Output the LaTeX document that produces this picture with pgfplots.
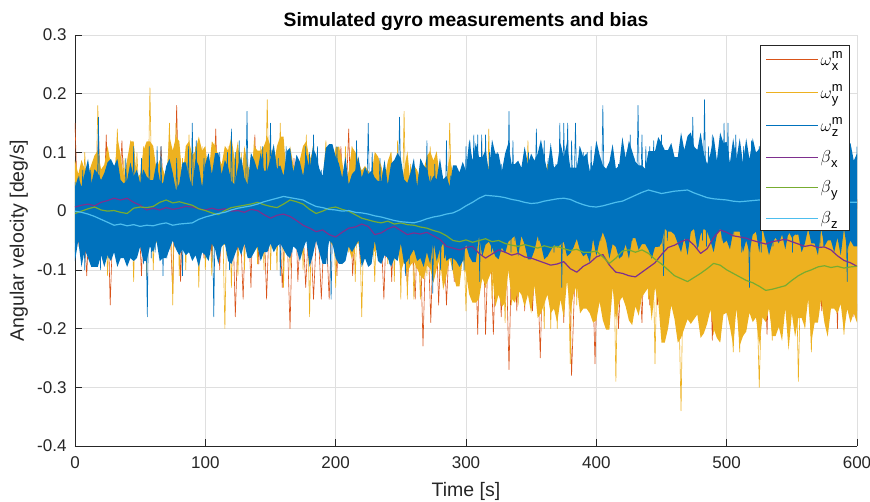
\documentclass[border=0pt]{standalone}
\usepackage{fontspec}
\setmainfont{Liberation Sans}
\usepackage{amsmath}
\usepackage{pgfplots}
\usepackage{pgfplotstable}
\pgfplotsset{compat=1.18}
\definecolor{mOrange}{rgb}{0.850,0.325,0.098}
\definecolor{mYellow}{rgb}{0.929,0.694,0.125}
\definecolor{mBlue}{rgb}{0,0.447,0.741}
\definecolor{mPurple}{rgb}{0.494,0.184,0.556}
\definecolor{mGreen}{rgb}{0.466,0.674,0.188}
\definecolor{mCyan}{rgb}{0.301,0.745,0.933}
\definecolor{axgray}{rgb}{0.15,0.15,0.15}
\definecolor{gridgray}{rgb}{0.875,0.875,0.875}

% omega_x measured, sampled every 3 s
\pgfplotstableread[row sep=\\]{y\\
0.15\\ -0.06\\ 0.02\\ -0.11\\ 0.04\\ -0.03\\ 0.13\\ -0.06\\ 0.13\\ -0.16\\ 0.04\\ -0.02\\ 0.12\\ -0.06\\ 0.09\\ 0\\ 0.05\\ -0.11\\ 0.08\\ -0.02\\
0.01\\ -0.04\\ 0.11\\ -0.01\\ 0.03\\ -0.14\\ 0.18\\ -0.12\\ 0.08\\ -0.04\\ 0.03\\ -0.03\\ 0.01\\ -0.08\\ 0.08\\ -0.08\\ 0.14\\ -0.10\\ 0.07\\ -0.07\\
0.09\\ -0.18\\ 0.03\\ -0.15\\ 0.06\\ -0.13\\ 0.13\\ -0.09\\ 0.06\\ -0.15\\ 0.05\\ -0.02\\ 0.05\\ -0.13\\ 0.02\\ -0.20\\ 0.09\\ -0.12\\ 0.02\\ -0.13\\
0.01\\ -0.15\\ 0\\ -0.15\\ 0.01\\ -0.15\\ 0.04\\ -0.11\\ 0.11\\ -0.04\\ 0.14\\ -0.11\\ 0.01\\ -0.09\\ 0.05\\ -0.09\\ 0.07\\ -0.04\\ 0.01\\ -0.15\\
0.06\\ -0.12\\ 0.06\\ -0.08\\ 0.01\\ -0.13\\ -0.01\\ -0.15\\ 0.05\\ -0.23\\ 0.02\\ -0.19\\ 0.06\\ -0.16\\ 0.03\\ -0.16\\ -0.01\\ -0.12\\ 0.06\\ -0.06\\
0.07\\ -0.13\\ 0.03\\ -0.21\\ 0.12\\ -0.21\\ 0.01\\ -0.21\\ 0.01\\ -0.18\\ 0\\ -0.27\\ 0.03\\ -0.17\\ 0.07\\ -0.17\\ 0.04\\ -0.17\\ -0.03\\ -0.25\\
0.02\\ -0.13\\ -0.02\\ -0.10\\ 0.02\\ -0.19\\ 0.01\\ -0.28\\ -0.08\\ -0.15\\ -0.01\\ -0.15\\ -0.01\\ -0.26\\ 0.02\\ -0.17\\ 0.05\\ -0.16\\ -0.01\\ -0.20\\
-0.05\\ -0.14\\ 0.04\\ -0.12\\ -0.05\\ -0.19\\ 0.04\\ -0.16\\ -0.04\\ -0.16\\ 0.10\\ -0.18\\ 0.02\\ -0.15\\ -0.04\\ -0.19\\ -0.01\\ -0.15\\ -0.05\\ -0.15\\
-0.01\\ -0.08\\ 0.01\\ -0.22\\ 0.05\\ -0.09\\ 0.01\\ -0.16\\ 0.01\\ -0.06\\ 0.09\\ -0.13\\ -0.04\\ -0.12\\ 0.07\\ -0.17\\ -0.04\\ -0.21\\ 0.05\\ -0.17\\
0.06\\ -0.17\\ -0.02\\ -0.13\\ -0.02\\ -0.07\\ 0.08\\ -0.16\\ 0.08\\ -0.18\\ -0.05\\ -0.17\\ 0.12\\ -0.14\\ 0.04\\ -0.20\\ 0.04\\ -0.17\\ -0.03\\ -0.18\\
0.02\\
}\wx

% omega_y measured, sampled every 2.5 s
\pgfplotstableread[row sep=\\]{y\\
-0.07\\ 0.03\\ -0.07\\ 0.10\\ -0.03\\ 0.06\\ -0.08\\ 0.18\\ -0.04\\ 0.06\\ -0.11\\ 0.06\\ -0.01\\ 0.14\\ -0.08\\ 0.09\\ -0.07\\ 0.12\\ -0.12\\ 0.10\\
-0.02\\ 0.11\\ -0.11\\ 0.21\\ -0.10\\ 0.05\\ -0.06\\ 0.05\\ 0\\ 0.15\\ -0.16\\ 0.15\\ -0.11\\ 0.09\\ -0.10\\ 0.13\\ -0.07\\ 0.11\\ -0.13\\ 0.11\\
-0.10\\ 0.04\\ -0.11\\ 0.12\\ -0.07\\ 0.07\\ -0.20\\ 0.11\\ -0.13\\ 0.08\\ -0.11\\ 0.10\\ -0.10\\ 0.07\\ -0.02\\ 0.12\\ -0.09\\ 0.11\\ -0.10\\ 0.19\\
-0.10\\ 0.07\\ -0.10\\ 0.15\\ -0.13\\ 0.09\\ -0.10\\ 0.07\\ -0.03\\ 0.08\\ -0.10\\ 0.13\\ -0.18\\ 0.11\\ -0.03\\ 0.04\\ 0\\ 0.12\\ 0\\ 0.07\\
-0.13\\ 0.11\\ -0.09\\ 0.11\\ -0.07\\ 0.11\\ -0.12\\ 0.07\\ -0.18\\ 0.06\\ -0.07\\ 0.03\\ -0.12\\ 0.09\\ -0.08\\ 0.02\\ -0.09\\ 0.10\\ -0.12\\ 0.12\\
-0.15\\ 0.17\\ -0.15\\ 0.08\\ -0.15\\ 0.01\\ -0.15\\ 0.04\\ -0.11\\ 0.11\\ -0.04\\ 0.04\\ -0.11\\ 0.01\\ -0.09\\ 0.15\\ -0.09\\ 0.07\\ -0.04\\ 0.01\\
-0.17\\ 0.06\\ -0.12\\ 0.06\\ -0.08\\ 0.01\\ -0.13\\ 0.14\\ -0.15\\ 0.05\\ -0.09\\ 0.02\\ -0.19\\ 0.06\\ -0.16\\ 0.03\\ -0.16\\ -0.01\\ -0.12\\ 0.12\\
-0.07\\ 0.08\\ -0.12\\ 0.04\\ -0.20\\ 0.08\\ -0.20\\ 0.02\\ -0.20\\ 0.02\\ -0.17\\ 0.01\\ -0.26\\ 0.04\\ -0.16\\ 0.08\\ -0.16\\ 0.05\\ -0.16\\ -0.02\\
-0.18\\ 0.04\\ -0.11\\ 0\\ -0.08\\ 0.04\\ -0.29\\ 0.03\\ -0.13\\ -0.06\\ -0.13\\ 0.01\\ -0.13\\ 0.01\\ -0.14\\ 0.04\\ -0.15\\ 0.07\\ -0.26\\ 0.01\\
-0.21\\ -0.07\\ -0.16\\ 0.02\\ -0.14\\ -0.07\\ -0.34\\ 0.02\\ -0.18\\ -0.06\\ -0.18\\ -0.07\\ -0.20\\ 0\\ -0.17\\ -0.06\\ -0.21\\ -0.03\\ -0.22\\ 0.10\\
-0.15\\ -0.05\\ -0.24\\ -0.11\\ -0.24\\ -0.02\\ -0.20\\ -0.09\\ -0.18\\ -0.08\\ -0.30\\ -0.08\\ -0.18\\ -0.11\\ -0.22\\ -0.02\\ -0.19\\ -0.01\\ -0.13\\ 0.02\\
-0.16\\ 0.02\\ -0.29\\ -0.03\\ -0.20\\ -0.09\\ -0.24\\ -0.02\\ -0.18\\ -0.09\\ -0.18\\ 0.02\\ -0.14\\ 0.10\\ -0.16\\ -0.07\\ -0.21\\ -0.06\\ -0.18\\ -0.04\\
-0.17\\
}\wy

% omega_y dense extent per 2.5 s bin: maxima forward (241), then minima backward (241)
\pgfplotstableread[row sep=\\]{y\\
0.087\\ 0.063\\ 0.087\\ 0.071\\ 0.063\\ 0.079\\ 0.095\\ 0.103\\ 0.071\\ 0.079\\ 0.111\\ 0.079\\ 0.055\\ 0.127\\ 0.095\\ 0.055\\ 0.087\\ 0.119\\ 0.119\\ 0.055\\
0.063\\ 0.103\\ 0.119\\ 0.119\\ 0.111\\ 0.071\\ 0.087\\ 0.071\\ 0.055\\ 0.127\\ 0.103\\ 0.127\\ 0.119\\ 0.055\\ 0.111\\ 0.119\\ 0.095\\ 0.103\\ 0.127\\ 0.103\\
0.111\\ 0.063\\ 0.119\\ 0.111\\ 0.095\\ 0.079\\ 0.111\\ 0.103\\ 0.127\\ 0.087\\ 0.119\\ 0.055\\ 0.111\\ 0.079\\ 0.063\\ 0.111\\ 0.103\\ 0.103\\ 0.111\\ 0.127\\
0.111\\ 0.079\\ 0.111\\ 0.127\\ 0.127\\ 0.055\\ 0.111\\ 0.079\\ 0.071\\ 0.087\\ 0.111\\ 0.119\\ 0.087\\ 0.103\\ 0.071\\ 0.063\\ 0.055\\ 0.111\\ 0.055\\ 0.079\\
0.109\\ 0.109\\ 0.085\\ 0.045\\ 0.069\\ 0.109\\ 0.101\\ 0.085\\ 0.069\\ 0.077\\ 0.069\\ 0.061\\ 0.101\\ 0.093\\ 0.077\\ 0.053\\ 0.085\\ 0.101\\ 0.053\\ 0.077\\
0.038\\ 0.070\\ 0.102\\ 0.046\\ 0.078\\ 0.070\\ 0.054\\ 0.070\\ 0.094\\ 0.102\\ 0.086\\ 0.102\\ 0.054\\ 0.046\\ 0.054\\ 0.094\\ 0.062\\ 0.078\\ 0.046\\ 0.078\\
0.037\\ 0.029\\ 0.029\\ 0.069\\ 0.029\\ 0.021\\ 0.061\\ 0.077\\ 0.045\\ 0.005\\ 0.021\\ 0.069\\ 0.069\\ 0.037\\ 0.013\\ 0.077\\ 0.061\\ 0.013\\ 0.053\\ 0.077\\
0.024\\ 0.072\\ 0.072\\ 0.024\\ 0.056\\ 0.040\\ 0.008\\ 0\\ 0.040\\ 0.064\\ 0.016\\ 0\\ 0.072\\ 0.056\\ 0.032\\ 0.072\\ 0.032\\ 0.032\\ 0.040\\ 0.072\\
0.011\\ 0.019\\ -0.005\\ 0.051\\ 0.059\\ 0.003\\ 0.043\\ 0.027\\ -0.005\\ 0.043\\ 0.011\\ 0.059\\ 0.043\\ 0.011\\ -0.005\\ 0.059\\ 0.067\\ 0.067\\ 0.059\\ 0.043\\
-0.004\\ 0.044\\ -0.020\\ 0.004\\ 0.012\\ 0.044\\ -0.004\\ 0.020\\ 0.004\\ 0.012\\ -0.004\\ -0.012\\ -0.012\\ 0.036\\ -0.020\\ 0.028\\ 0.036\\ 0.052\\ 0.044\\ -0.004\\
-0.017\\ 0.007\\ 0.039\\ -0.025\\ 0.039\\ 0.023\\ 0.015\\ -0.017\\ -0.001\\ -0.009\\ 0.039\\ -0.009\\ -0.001\\ -0.025\\ 0.023\\ 0.023\\ 0.007\\ 0.031\\ -0.025\\ 0.047\\
0.004\\ 0.044\\ 0.012\\ 0.012\\ 0.028\\ -0.020\\ 0.052\\ 0.020\\ 0.020\\ -0.020\\ 0.020\\ 0.044\\ -0.004\\ -0.004\\ 0.004\\ -0.012\\ 0.036\\ -0.004\\ 0.020\\ 0.004\\
0.020\\
-0.190\\
-0.174\\ -0.190\\ -0.166\\ -0.206\\ -0.158\\ -0.174\\ -0.166\\ -0.166\\ -0.214\\ -0.190\\ -0.150\\ -0.190\\ -0.190\\ -0.222\\ -0.150\\ -0.198\\ -0.182\\ -0.182\\ -0.214\\ -0.174\\
-0.237\\ -0.165\\ -0.221\\ -0.197\\ -0.213\\ -0.213\\ -0.165\\ -0.189\\ -0.181\\ -0.229\\ -0.181\\ -0.189\\ -0.173\\ -0.205\\ -0.213\\ -0.229\\ -0.165\\ -0.229\\ -0.197\\ -0.173\\
-0.176\\ -0.224\\ -0.216\\ -0.200\\ -0.168\\ -0.192\\ -0.208\\ -0.216\\ -0.176\\ -0.184\\ -0.192\\ -0.184\\ -0.200\\ -0.216\\ -0.224\\ -0.184\\ -0.160\\ -0.200\\ -0.224\\ -0.224\\
-0.154\\ -0.130\\ -0.186\\ -0.130\\ -0.138\\ -0.146\\ -0.178\\ -0.162\\ -0.194\\ -0.186\\ -0.162\\ -0.146\\ -0.154\\ -0.186\\ -0.130\\ -0.202\\ -0.202\\ -0.186\\ -0.154\\ -0.186\\
-0.190\\ -0.174\\ -0.166\\ -0.166\\ -0.174\\ -0.126\\ -0.142\\ -0.174\\ -0.118\\ -0.182\\ -0.150\\ -0.190\\ -0.166\\ -0.174\\ -0.142\\ -0.158\\ -0.174\\ -0.182\\ -0.126\\ -0.174\\
-0.142\\ -0.163\\ -0.142\\ -0.135\\ -0.156\\ -0.149\\ -0.100\\ -0.156\\ -0.163\\ -0.142\\ -0.163\\ -0.100\\ -0.114\\ -0.128\\ -0.114\\ -0.149\\ -0.156\\ -0.156\\ -0.142\\ -0.107\\
-0.080\\ -0.128\\ -0.128\\ -0.104\\ -0.080\\ -0.110\\ -0.134\\ -0.080\\ -0.098\\ -0.122\\ -0.098\\ -0.092\\ -0.116\\ -0.110\\ -0.098\\ -0.086\\ -0.092\\ -0.104\\ -0.086\\ -0.104\\
-0.066\\ -0.078\\ -0.058\\ -0.066\\ -0.074\\ -0.074\\ -0.054\\ -0.070\\ -0.058\\ -0.070\\ -0.082\\ -0.078\\ -0.054\\ -0.058\\ -0.082\\ -0.062\\ -0.054\\ -0.078\\ -0.070\\ -0.066\\
-0.058\\ -0.050\\ -0.054\\ -0.048\\ -0.050\\ -0.046\\ -0.050\\ -0.046\\ -0.040\\ -0.046\\ -0.052\\ -0.052\\ -0.054\\ -0.040\\ -0.048\\ -0.044\\ -0.054\\ -0.054\\ -0.044\\ -0.052\\
-0.054\\ -0.052\\ -0.058\\ -0.052\\ -0.052\\ -0.058\\ -0.048\\ -0.054\\ -0.050\\ -0.058\\ -0.050\\ -0.058\\ -0.058\\ -0.058\\ -0.052\\ -0.046\\ -0.058\\ -0.040\\ -0.054\\ -0.048\\
-0.044\\ -0.054\\ -0.050\\ -0.054\\ -0.054\\ -0.058\\ -0.048\\ -0.044\\ -0.052\\ -0.052\\ -0.044\\ -0.050\\ -0.046\\ -0.042\\ -0.054\\ -0.048\\ -0.054\\ -0.056\\ -0.044\\ -0.040\\
-0.052\\ -0.046\\ -0.050\\ -0.046\\ -0.044\\ -0.050\\ -0.048\\ -0.040\\ -0.058\\ -0.050\\ -0.048\\ -0.056\\ -0.044\\ -0.056\\ -0.042\\ -0.056\\ -0.044\\ -0.056\\ -0.042\\ -0.054\\
}\yband

% omega_z measured, sampled every 1.5 s
\pgfplotstableread[row sep=\\]{y\\
0.05\\ -0.01\\ 0.06\\ -0.01\\ 0.07\\ -0.10\\ 0.04\\ -0.06\\ 0.07\\ -0.03\\ 0.07\\ -0.08\\ 0.16\\ -0.10\\ 0.05\\ -0.02\\ 0.05\\ -0.08\\ 0.06\\ -0.06\\
0.07\\ -0.03\\ 0.07\\ -0.05\\ 0.04\\ -0.04\\ 0.09\\ -0.04\\ 0.03\\ -0.08\\ 0.11\\ -0.06\\ 0.01\\ -0.03\\ 0.09\\ -0.09\\ 0.05\\ -0.18\\ 0.11\\ -0.08\\
0.02\\ -0.07\\ 0.11\\ -0.04\\ 0.11\\ -0.11\\ 0.04\\ -0.08\\ 0.06\\ -0.02\\ 0.01\\ -0.06\\ 0.09\\ -0.03\\ 0.01\\ -0.11\\ 0.08\\ -0.05\\ 0.11\\ -0.05\\
0.15\\ -0.05\\ 0.12\\ -0.02\\ 0.05\\ 0\\ 0.09\\ -0.08\\ 0.03\\ -0.06\\ 0.06\\ -0.18\\ 0.08\\ -0.02\\ 0.10\\ -0.06\\ 0.04\\ 0\\ 0.10\\ -0.10\\
0.14\\ -0.06\\ 0.10\\ -0.06\\ 0.12\\ -0.05\\ 0.07\\ -0.02\\ 0.17\\ -0.07\\ 0.09\\ -0.01\\ 0.08\\ -0.04\\ 0.05\\ -0.08\\ 0.11\\ -0.03\\ 0.10\\ -0.05\\
0.15\\ -0.05\\ 0.07\\ -0.06\\ 0.09\\ -0.11\\ 0.05\\ -0.05\\ 0.11\\ -0.02\\ 0.06\\ -0.07\\ 0.07\\ -0.05\\ 0.07\\ -0.04\\ 0.05\\ -0.03\\ 0.11\\ -0.01\\
0.10\\ -0.07\\ 0.13\\ -0.02\\ 0.11\\ -0.03\\ 0.07\\ -0.05\\ 0.03\\ -0.09\\ 0.08\\ -0.15\\ 0.03\\ -0.04\\ 0.11\\ -0.06\\ 0.05\\ -0.02\\ 0.04\\ -0.06\\
0.04\\ -0.05\\ 0.05\\ -0.05\\ 0.12\\ -0.04\\ 0.02\\ -0.08\\ 0.03\\ -0.02\\ 0.15\\ -0.04\\ 0.10\\ -0.01\\ 0.03\\ -0.01\\ 0.09\\ -0.04\\ 0.07\\ 0\\
0.03\\ -0.09\\ 0.05\\ -0.02\\ 0.01\\ -0.03\\ 0.16\\ -0.01\\ 0.02\\ -0.11\\ 0.04\\ -0.09\\ 0.06\\ -0.03\\ 0.02\\ -0.02\\ 0.01\\ -0.06\\ 0.06\\ -0.06\\
0.12\\ -0.06\\ 0.06\\ -0.14\\ 0.08\\ -0.02\\ 0.04\\ -0.10\\ 0.06\\ -0.08\\ 0.12\\ -0.05\\ 0.06\\ -0.10\\ 0.05\\ 0\\ 0.05\\ -0.08\\ 0.03\\ -0.10\\
0.11\\ -0.05\\ 0.12\\ -0.03\\ 0.13\\ -0.04\\ 0.13\\ -0.12\\ 0.13\\ -0.05\\ 0.13\\ -0.01\\ 0.10\\ -0.07\\ 0.05\\ -0.01\\ 0.10\\ -0.06\\ 0.08\\ -0.02\\
0.07\\ -0.04\\ 0.17\\ -0.07\\ 0.12\\ -0.05\\ 0.08\\ -0.05\\ 0.05\\ -0.01\\ 0.09\\ -0.06\\ 0.10\\ -0.04\\ 0.06\\ -0.02\\ 0.14\\ -0.05\\ 0.11\\ -0.03\\
0.12\\ -0.06\\ 0.09\\ -0.04\\ 0.05\\ -0.07\\ 0.08\\ -0.03\\ 0.15\\ -0.13\\ 0.15\\ -0.02\\ 0.15\\ -0.05\\ 0.12\\ -0.01\\ 0.15\\ -0.03\\ 0.11\\ -0.07\\
0.10\\ -0.05\\ 0.10\\ -0.06\\ 0.11\\ -0.05\\ 0.06\\ -0.02\\ 0.04\\ -0.05\\ 0.18\\ -0.04\\ 0.07\\ -0.04\\ 0.07\\ -0.03\\ 0.07\\ -0.03\\ 0.08\\ -0.05\\
0.11\\ -0.06\\ 0.10\\ -0.01\\ 0.13\\ -0.05\\ 0.09\\ -0.04\\ 0.18\\ -0.03\\ 0.13\\ -0.04\\ 0.11\\ -0.05\\ 0.11\\ -0.04\\ 0.12\\ -0.02\\ 0.10\\ -0.06\\
0.13\\ -0.11\\ 0.07\\ -0.05\\ 0.07\\ -0.03\\ 0.08\\ -0.04\\ 0.09\\ -0.01\\ 0.12\\ -0.05\\ 0.09\\ -0.03\\ 0.09\\ -0.03\\ 0.16\\ -0.01\\ 0.06\\ -0.06\\
0.13\\ -0.05\\ 0.19\\ -0.06\\ 0.11\\ -0.05\\ 0.13\\ -0.04\\ 0.07\\ -0.01\\ 0.07\\ -0.05\\ 0.15\\ -0.03\\ 0.15\\ -0.05\\ 0.05\\ -0.04\\ 0.13\\ -0.02\\
0.11\\ -0.07\\ 0.11\\ -0.04\\ 0.06\\ -0.13\\ 0.12\\ -0.02\\ 0.08\\ -0.04\\ 0.11\\ -0.07\\ 0.09\\ -0.05\\ 0.05\\ -0.04\\ 0.08\\ -0.06\\ 0.12\\ -0.03\\
0.11\\ -0.04\\ 0.15\\ -0.04\\ 0.08\\ -0.04\\ 0.18\\ -0.07\\ 0.05\\ -0.04\\ 0.08\\ -0.06\\ 0.09\\ -0.04\\ 0.13\\ -0.01\\ 0.11\\ -0.05\\ 0.06\\ -0.04\\
0.11\\ -0.06\\ 0.07\\ -0.06\\ 0.17\\ -0.03\\ 0.04\\ -0.01\\ 0.12\\ -0.05\\ 0.09\\ -0.01\\ 0.08\\ -0.01\\ 0.06\\ -0.12\\ 0.10\\ -0.02\\ 0.05\\ -0.03\\
0.11\\
}\wz

% omega_z dense extent per 2.5 s bin: maxima forward (241), then minima backward (241)
\pgfplotstableread[row sep=\\]{y\\
0.041\\ 0.059\\ 0.041\\ 0.065\\ 0.089\\ 0.047\\ 0.071\\ 0.065\\ 0.053\\ 0.065\\ 0.083\\ 0.089\\ 0.077\\ 0.089\\ 0.053\\ 0.047\\ 0.053\\ 0.083\\ 0.059\\ 0.071\\
0.047\\ 0.071\\ 0.059\\ 0.053\\ 0.053\\ 0.083\\ 0.053\\ 0.047\\ 0.077\\ 0.089\\ 0.065\\ 0.035\\ 0.047\\ 0.083\\ 0.083\\ 0.059\\ 0.041\\ 0.089\\ 0.077\\ 0.041\\
0.081\\ 0.099\\ 0.063\\ 0.099\\ 0.099\\ 0.063\\ 0.087\\ 0.075\\ 0.051\\ 0.045\\ 0.075\\ 0.093\\ 0.057\\ 0.045\\ 0.099\\ 0.087\\ 0.069\\ 0.099\\ 0.069\\ 0.069\\
0.090\\ 0.114\\ 0.072\\ 0.078\\ 0.060\\ 0.102\\ 0.108\\ 0.066\\ 0.096\\ 0.084\\ 0.060\\ 0.096\\ 0.072\\ 0.108\\ 0.096\\ 0.072\\ 0.060\\ 0.108\\ 0.114\\ 0.114\\
0.093\\ 0.081\\ 0.057\\ 0.093\\ 0.045\\ 0.063\\ 0.069\\ 0.093\\ 0.057\\ 0.075\\ 0.063\\ 0.069\\ 0.057\\ 0.051\\ 0.051\\ 0.087\\ 0.045\\ 0.081\\ 0.087\\ 0.099\\
0.090\\ 0.054\\ 0.048\\ 0.066\\ 0.090\\ 0.042\\ 0.090\\ 0.078\\ 0.072\\ 0.048\\ 0.060\\ 0.054\\ 0.090\\ 0.054\\ 0.060\\ 0.042\\ 0.078\\ 0.078\\ 0.066\\ 0.084\\
0.068\\ 0.122\\ 0.086\\ 0.116\\ 0.092\\ 0.092\\ 0.104\\ 0.068\\ 0.122\\ 0.098\\ 0.098\\ 0.068\\ 0.098\\ 0.116\\ 0.080\\ 0.080\\ 0.086\\ 0.074\\ 0.110\\ 0.080\\
0.098\\ 0.086\\ 0.098\\ 0.122\\ 0.092\\ 0.068\\ 0.116\\ 0.074\\ 0.080\\ 0.116\\ 0.092\\ 0.116\\ 0.074\\ 0.074\\ 0.074\\ 0.110\\ 0.092\\ 0.098\\ 0.068\\ 0.080\\
0.120\\ 0.096\\ 0.078\\ 0.072\\ 0.084\\ 0.114\\ 0.072\\ 0.078\\ 0.126\\ 0.090\\ 0.120\\ 0.102\\ 0.084\\ 0.078\\ 0.078\\ 0.072\\ 0.102\\ 0.102\\ 0.102\\ 0.126\\
0.116\\ 0.104\\ 0.104\\ 0.116\\ 0.092\\ 0.092\\ 0.134\\ 0.104\\ 0.128\\ 0.134\\ 0.110\\ 0.104\\ 0.134\\ 0.098\\ 0.080\\ 0.098\\ 0.128\\ 0.086\\ 0.134\\ 0.116\\
0.118\\ 0.082\\ 0.124\\ 0.088\\ 0.124\\ 0.082\\ 0.124\\ 0.088\\ 0.124\\ 0.100\\ 0.106\\ 0.130\\ 0.076\\ 0.100\\ 0.106\\ 0.088\\ 0.094\\ 0.106\\ 0.094\\ 0.112\\
0.074\\ 0.086\\ 0.122\\ 0.116\\ 0.098\\ 0.116\\ 0.080\\ 0.092\\ 0.104\\ 0.086\\ 0.110\\ 0.110\\ 0.086\\ 0.098\\ 0.128\\ 0.116\\ 0.116\\ 0.104\\ 0.116\\ 0.086\\
0.098\\
-0.060\\
-0.060\\ -0.050\\ -0.065\\ -0.030\\ -0.075\\ -0.045\\ -0.070\\ -0.050\\ -0.050\\ -0.060\\ -0.030\\ -0.075\\ -0.055\\ -0.055\\ -0.030\\ -0.055\\ -0.070\\ -0.040\\ -0.040\\ -0.045\\
-0.035\\ -0.065\\ -0.040\\ -0.055\\ -0.045\\ -0.055\\ -0.075\\ -0.050\\ -0.030\\ -0.070\\ -0.035\\ -0.040\\ -0.070\\ -0.050\\ -0.070\\ -0.035\\ -0.035\\ -0.035\\ -0.065\\ -0.050\\
-0.055\\ -0.030\\ -0.040\\ -0.070\\ -0.050\\ -0.035\\ -0.030\\ -0.040\\ -0.065\\ -0.030\\ -0.035\\ -0.075\\ -0.045\\ -0.070\\ -0.055\\ -0.040\\ -0.035\\ -0.035\\ -0.030\\ -0.055\\
-0.061\\ -0.061\\ -0.081\\ -0.066\\ -0.056\\ -0.056\\ -0.066\\ -0.046\\ -0.046\\ -0.081\\ -0.056\\ -0.076\\ -0.081\\ -0.061\\ -0.056\\ -0.081\\ -0.051\\ -0.036\\ -0.051\\ -0.076\\
-0.047\\ -0.087\\ -0.072\\ -0.077\\ -0.067\\ -0.047\\ -0.062\\ -0.072\\ -0.077\\ -0.052\\ -0.057\\ -0.062\\ -0.057\\ -0.067\\ -0.077\\ -0.082\\ -0.057\\ -0.042\\ -0.067\\ -0.082\\
-0.082\\ -0.057\\ -0.042\\ -0.077\\ -0.042\\ -0.047\\ -0.052\\ -0.072\\ -0.062\\ -0.082\\ -0.077\\ -0.062\\ -0.052\\ -0.057\\ -0.077\\ -0.042\\ -0.087\\ -0.087\\ -0.077\\ -0.057\\
-0.085\\ -0.095\\ -0.085\\ -0.080\\ -0.080\\ -0.085\\ -0.055\\ -0.065\\ -0.085\\ -0.050\\ -0.090\\ -0.070\\ -0.095\\ -0.080\\ -0.085\\ -0.065\\ -0.075\\ -0.085\\ -0.090\\ -0.055\\
-0.085\\ -0.080\\ -0.095\\ -0.080\\ -0.075\\ -0.090\\ -0.085\\ -0.050\\ -0.090\\ -0.095\\ -0.080\\ -0.095\\ -0.050\\ -0.060\\ -0.070\\ -0.060\\ -0.085\\ -0.090\\ -0.090\\ -0.080\\
-0.055\\ -0.050\\ -0.090\\ -0.090\\ -0.070\\ -0.050\\ -0.075\\ -0.095\\ -0.050\\ -0.065\\ -0.085\\ -0.065\\ -0.060\\ -0.080\\ -0.075\\ -0.065\\ -0.055\\ -0.060\\ -0.070\\ -0.055\\
-0.070\\ -0.070\\ -0.085\\ -0.060\\ -0.070\\ -0.080\\ -0.080\\ -0.055\\ -0.075\\ -0.060\\ -0.075\\ -0.090\\ -0.085\\ -0.055\\ -0.060\\ -0.090\\ -0.065\\ -0.055\\ -0.085\\ -0.075\\
-0.070\\ -0.095\\ -0.075\\ -0.085\\ -0.070\\ -0.075\\ -0.065\\ -0.075\\ -0.065\\ -0.050\\ -0.065\\ -0.080\\ -0.080\\ -0.085\\ -0.050\\ -0.070\\ -0.060\\ -0.085\\ -0.085\\ -0.060\\
-0.080\\ -0.085\\ -0.080\\ -0.095\\ -0.080\\ -0.080\\ -0.095\\ -0.070\\ -0.085\\ -0.075\\ -0.095\\ -0.075\\ -0.095\\ -0.095\\ -0.095\\ -0.080\\ -0.065\\ -0.095\\ -0.050\\ -0.085\\
}\zband

% biases, sampled every 5 s
\pgfplotstableread[row sep=\\]{y\\
0.007\\ 0.010\\ 0.012\\ 0.009\\ 0.015\\ 0.018\\ 0.022\\ 0.019\\ 0.022\\ 0.015\\ 0.010\\ 0.002\\ 0.005\\ 0.002\\ 0.006\\ 0.003\\ 0.005\\ 0.008\\ 0.007\\ 0.004\\
0.002\\ 0.005\\ 0.002\\ 0.004\\ 0\\ 0.001\\ -0.002\\ 0.003\\ 0.001\\ -0.006\\ -0.012\\ -0.007\\ -0.005\\ -0.009\\ -0.016\\ -0.024\\ -0.029\\ -0.035\\ -0.032\\ -0.040\\
-0.044\\ -0.036\\ -0.029\\ -0.027\\ -0.022\\ -0.026\\ -0.040\\ -0.037\\ -0.030\\ -0.026\\ -0.033\\ -0.040\\ -0.037\\ -0.039\\ -0.036\\ -0.042\\ -0.048\\ -0.060\\ -0.063\\ -0.066\\
-0.062\\ -0.060\\ -0.072\\ -0.080\\ -0.073\\ -0.066\\ -0.070\\ -0.075\\ -0.072\\ -0.078\\ -0.080\\ -0.084\\ -0.088\\ -0.092\\ -0.090\\ -0.086\\ -0.098\\ -0.104\\ -0.094\\ -0.088\\
-0.078\\ -0.074\\ -0.092\\ -0.104\\ -0.106\\ -0.110\\ -0.112\\ -0.104\\ -0.096\\ -0.088\\ -0.074\\ -0.062\\ -0.058\\ -0.052\\ -0.048\\ -0.058\\ -0.072\\ -0.064\\ -0.045\\ -0.032\\
-0.036\\ -0.042\\ -0.044\\ -0.046\\ -0.050\\ -0.053\\ -0.056\\ -0.052\\ -0.050\\ -0.048\\ -0.052\\ -0.056\\ -0.060\\ -0.058\\ -0.062\\ -0.061\\ -0.066\\ -0.076\\ -0.084\\ -0.088\\
-0.094\\
}\bx
\pgfplotstableread[row sep=\\]{y\\
-0.004\\ 0\\ 0.004\\ 0.007\\ 0.002\\ 0\\ 0.001\\ -0.002\\ -0.004\\ 0.005\\ 0.007\\ 0.006\\ 0.008\\ 0.015\\ 0.019\\ 0.014\\ 0.016\\ 0.013\\ 0.010\\ 0.004\\
0.001\\ -0.003\\ -0.006\\ 0.001\\ 0.006\\ 0.008\\ 0.010\\ 0.012\\ 0.015\\ 0.011\\ 0.008\\ 0.006\\ 0.012\\ 0.019\\ 0.016\\ 0.012\\ 0.003\\ -0.004\\ 0\\ 0.005\\
0.007\\ 0.003\\ 0\\ -0.006\\ -0.012\\ -0.015\\ -0.018\\ -0.020\\ -0.017\\ -0.022\\ -0.020\\ -0.023\\ -0.024\\ -0.027\\ -0.029\\ -0.033\\ -0.036\\ -0.042\\ -0.050\\ -0.052\\
-0.049\\ -0.053\\ -0.050\\ -0.047\\ -0.052\\ -0.050\\ -0.055\\ -0.058\\ -0.060\\ -0.057\\ -0.060\\ -0.063\\ -0.059\\ -0.062\\ -0.060\\ -0.064\\ -0.067\\ -0.065\\ -0.070\\ -0.070\\
-0.068\\ -0.078\\ -0.089\\ -0.080\\ -0.068\\ -0.066\\ -0.070\\ -0.066\\ -0.072\\ -0.082\\ -0.090\\ -0.100\\ -0.110\\ -0.115\\ -0.120\\ -0.113\\ -0.106\\ -0.098\\ -0.089\\ -0.092\\
-0.100\\ -0.106\\ -0.112\\ -0.118\\ -0.122\\ -0.128\\ -0.135\\ -0.133\\ -0.130\\ -0.127\\ -0.118\\ -0.110\\ -0.104\\ -0.100\\ -0.095\\ -0.093\\ -0.096\\ -0.094\\ -0.097\\ -0.095\\
-0.094\\
}\by
\pgfplotstableread[row sep=\\]{y\\
0\\ -0.002\\ -0.005\\ -0.009\\ -0.014\\ -0.019\\ -0.024\\ -0.022\\ -0.025\\ -0.023\\ -0.026\\ -0.024\\ -0.025\\ -0.022\\ -0.020\\ -0.024\\ -0.022\\ -0.021\\ -0.020\\ -0.014\\
-0.010\\ -0.007\\ -0.004\\ -0.002\\ 0.002\\ 0.005\\ 0.007\\ 0.009\\ 0.012\\ 0.016\\ 0.019\\ 0.022\\ 0.025\\ 0.023\\ 0.021\\ 0.019\\ 0.013\\ 0.008\\ 0.006\\ 0.003\\
0.002\\ 0\\ 0.001\\ -0.002\\ -0.003\\ -0.005\\ -0.008\\ -0.010\\ -0.013\\ -0.016\\ -0.018\\ -0.019\\ -0.020\\ -0.017\\ -0.013\\ -0.010\\ -0.008\\ -0.005\\ -0.003\\ 0.002\\
0.009\\ 0.015\\ 0.022\\ 0.027\\ 0.026\\ 0.025\\ 0.023\\ 0.020\\ 0.018\\ 0.015\\ 0.013\\ 0.014\\ 0.017\\ 0.019\\ 0.021\\ 0.022\\ 0.020\\ 0.015\\ 0.011\\ 0.008\\
0.007\\ 0.009\\ 0.012\\ 0.015\\ 0.017\\ 0.022\\ 0.027\\ 0.032\\ 0.036\\ 0.033\\ 0.030\\ 0.032\\ 0.034\\ 0.035\\ 0.036\\ 0.031\\ 0.027\\ 0.023\\ 0.021\\ 0.020\\
0.019\\ 0.017\\ 0.016\\ 0.017\\ 0.018\\ 0.019\\ 0.020\\ 0.021\\ 0.020\\ 0.021\\ 0.020\\ 0.018\\ 0.017\\ 0.016\\ 0.017\\ 0.015\\ 0.014\\ 0.016\\ 0.015\\ 0.015\\
0.015\\
}\bz

\newcommand{\sx}[1]{\mbox{\fontsize{13}{13}\selectfont #1}}
\newcommand{\lgw}[2]{$\omega$\raisebox{-5pt}{\rlap{\sx{#2}}}\raisebox{7.5pt}{\sx{#1}}}
\newcommand{\lgb}[1]{$\beta$\raisebox{-5pt}{\sx{#1}}}

\begin{document}
\begin{tikzpicture}
\path[use as bounding box] (-75pt,-56pt) rectangle (795pt,446pt);
\begin{axis}[
  scale only axis, width=782pt, height=411pt,
  at={(0pt,0pt)}, anchor=south west,
  xmin=0, xmax=600, ymin=-0.4, ymax=0.3,
  axis x line*=bottom, axis y line*=left,
  axis line style={axgray, line width=0.6pt},
  tick align=inside, major tick length=7pt,
  tick style={axgray, line width=0.6pt},
  xtick={0,100,200,300,400,500,600},
  xticklabels={0,100,200,300,400,500,600},
  ytick={-0.4,-0.3,-0.2,-0.1,0,0.1,0.2,0.3},
  yticklabels={-0.4,-0.3,-0.2,-0.1,0,0.1,0.2,0.3},
  ticklabel style={font=\fontsize{17}{19}\selectfont, text=axgray},
  xticklabel style={yshift=-7pt},
  yticklabel style={xshift=-5pt},
  grid=major, grid style={gridgray, line width=0.6pt},
  title={\textbf{Simulated gyro measurements and bias}},
  title style={font=\fontsize{19.3}{22}\selectfont, text=black, at={(0.5,1)}, anchor=base, yshift=2pt},
  xlabel={Time [s]}, ylabel={Angular velocity [deg/s]},
  label style={font=\fontsize{19.5}{22}\selectfont, text=axgray},
  xlabel style={at={(0.5,0)}, anchor=base, yshift=-51pt},
  ylabel style={at={(0,0.5)}, anchor=base, yshift=51pt},
  legend style={at={(1,1)}, xshift=-7pt, yshift=-10pt, anchor=north east,
    draw=axgray, line width=0.6pt, fill=white,
    font=\fontsize{17}{20}\selectfont, inner xsep=5pt, inner ysep=4pt,
    row sep=13pt, /tikz/every even column/.append style={column sep=3pt}},
  legend cell align=left,
  legend image code/.code={\draw[#1, line width=1pt] (0pt,0pt) -- (52pt,0pt);},
  every axis plot/.append style={line join=round, mark=none},
]
\addplot[mOrange, line width=0.6pt] table[x expr=\coordindex*3, y=y]{\wx};
\addlegendentry{\lgw{m}{x}}
\addplot[draw=none, fill=mYellow, forget plot] table[x expr={\coordindex<241 ? \coordindex*2.5 : (481-\coordindex)*2.5}, y=y]{\yband};
\addplot[mYellow, line width=0.6pt] table[x expr=\coordindex*2.5, y=y]{\wy};
\addlegendentry{\lgw{m}{y}}
\addplot[draw=none, fill=mBlue, forget plot] table[x expr={\coordindex<241 ? \coordindex*2.5 : (481-\coordindex)*2.5}, y=y]{\zband};
\addplot[mBlue, line width=0.6pt] table[x expr=\coordindex*1.5, y=y]{\wz};
\addlegendentry{\lgw{m}{z}}
\addplot[mPurple, line width=1.2pt] table[x expr=\coordindex*5, y=y]{\bx};
\addlegendentry{\lgb{x}}
\addplot[mGreen, line width=1.2pt] table[x expr=\coordindex*5, y=y]{\by};
\addlegendentry{\lgb{y}}
\addplot[mCyan, line width=1.2pt] table[x expr=\coordindex*5, y=y]{\bz};
\addlegendentry{\lgb{z}}
\end{axis}
\end{tikzpicture}
\end{document}
